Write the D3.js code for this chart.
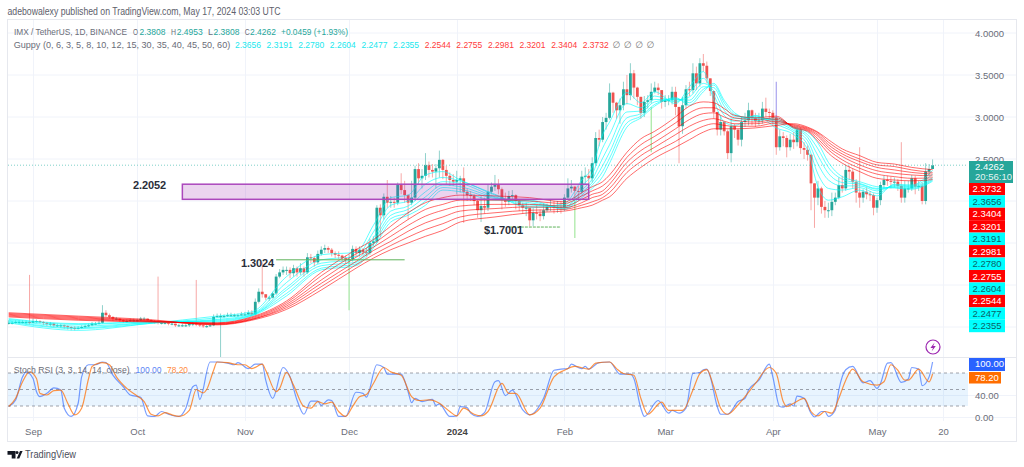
<!DOCTYPE html>
<html><head><meta charset="utf-8">
<script src="https://cdn.jsdelivr.net/npm/d3@7"></script>
<style>html,body{margin:0;padding:0;background:#fff;overflow:hidden}svg{display:block}text{font-family:"Liberation Sans","Noto Sans",sans-serif}</style>
</head><body><svg id="c" width="1024" height="467"></svg>
<script>
// ---- data (day index 0 = 25 Aug 2023, daily candles) ----
const closes=[
.55,.55,.56,.56,.56,.56,.55,.57,.57,.56,
.55,.54,.54,.52,.52,.52,.51,.50,.49,.48,
.49,.50,.51,.52,.54,.54,.55,.67,.64,.62,
.60,.60,.58,.57,.57,.58,.58,.58,.60,.60,
.58,.57,.56,.55,.55,.55,.54,.54,.52,.52,
.52,.52,.54,.54,.53,.52,.51,.51,.52,.62,
.63,.63,.63,.64,.64,.64,.64,.65,.65,.67,
.65,.80,.92,.89,.85,.85,.90,1.10,1.15,1.18,
1.18,1.14,1.20,1.15,1.20,1.15,1.33,1.32,1.27,1.37,
1.42,1.44,1.42,1.38,1.36,1.35,1.32,1.30,1.31,1.43,
1.38,1.42,1.39,1.38,1.50,1.52,1.92,1.83,2.05,1.98,
1.99,1.98,2.19,2.13,2.07,1.98,2.04,2.38,2.27,2.30,
2.43,2.37,2.35,2.39,2.49,2.37,2.30,2.25,2.23,2.25,
2.27,2.11,2.07,2.06,2.00,1.89,1.94,1.92,2.11,2.17,
2.19,2.14,2.01,1.99,2.06,2.07,2.00,1.95,1.92,1.92,
1.77,1.86,1.85,1.82,1.89,1.93,1.94,1.92,1.93,1.92,
2.04,2.15,2.17,2.12,2.11,2.29,2.30,2.27,2.45,2.75,
2.73,2.94,2.99,3.29,3.17,3.08,3.14,3.33,3.26,3.52,
3.35,3.24,3.05,3.18,3.20,3.30,3.35,3.32,3.18,3.20,
3.20,3.30,3.12,2.89,3.14,3.33,3.32,3.52,3.40,3.64,
3.61,3.46,3.31,3.06,2.85,2.94,2.83,2.57,2.89,2.85,
2.73,2.94,2.96,3.08,2.99,2.95,2.96,3.10,3.06,3.05,
2.99,2.64,2.77,2.75,2.64,2.73,2.70,2.85,2.63,2.61,
2.55,2.21,2.04,2.15,1.93,1.89,1.89,1.99,2.04,2.19,
2.15,2.37,2.35,2.23,2.10,2.04,2.11,2.08,2.07,1.92,
2.01,2.19,2.25,2.24,2.23,2.23,2.18,2.04,2.15,2.15,
2.27,2.17,2.18,2.00,2.35,2.3808,2.4262];
const highs=[
.58,.57,.58,.58,.58,.58,1.12,.60,.59,.58,
.57,.56,.56,.55,.54,.54,.53,.52,.51,.51,
.51,.52,.53,.54,.56,.56,.58,.76,.70,.66,
.63,.62,.60,.59,.59,.60,.60,.60,.62,.62,
.60,.59,.58,1.10,.57,.57,.56,.56,.54,.54,
.54,.54,.54,.56,1.06,.54,.53,.53,.54,.65,
.66,.66,.65,.67,.67,.66,.66,.68,.68,.70,
.70,.84,.96,1.27,.88,.87,.92,1.13,1.19,1.22,
1.22,1.21,1.24,1.22,1.26,1.22,1.38,1.37,1.34,1.41,
1.46,1.48,1.46,1.44,1.40,1.40,1.36,1.35,1.36,1.47,
1.46,1.46,1.44,1.44,1.55,1.58,1.95,1.96,2.09,2.25,
2.06,2.04,2.22,2.33,2.24,2.08,2.24,2.42,2.45,2.38,
2.57,2.47,2.44,2.44,2.60,2.50,2.42,2.34,2.32,2.36,
2.30,2.40,2.15,2.12,2.08,2.02,2.06,2.04,2.20,2.22,
2.31,2.26,2.16,2.10,2.12,2.13,2.08,2.02,1.98,1.98,
1.92,1.92,1.95,1.90,1.97,1.97,2.02,2.00,2.00,2.00,
2.08,2.27,2.25,2.18,2.18,2.36,2.40,2.38,2.52,2.82,
2.85,3.00,3.05,3.40,3.30,3.18,3.22,3.42,3.50,3.64,
3.56,3.36,3.22,3.25,3.26,3.40,3.42,3.40,3.28,3.26,
3.26,3.36,3.36,3.05,3.24,3.38,3.42,3.64,3.60,3.70,
3.75,3.66,3.40,3.20,3.00,3.02,2.95,2.85,2.98,2.92,
2.85,3.00,3.05,3.17,3.09,3.05,3.05,3.18,3.23,3.10,
3.08,3.02,2.85,2.82,2.78,2.80,2.82,2.90,2.88,2.70,
2.66,2.56,2.20,2.24,2.17,2.00,1.98,2.10,2.10,2.28,
2.30,2.43,2.42,2.38,2.26,2.64,2.14,2.16,2.12,2.09,
2.04,2.23,2.30,2.30,2.29,2.28,2.26,2.70,2.24,2.24,
2.31,2.30,2.24,2.22,2.45,2.44,2.4953];
const lows=[
.53,.53,.54,.54,.54,.53,.53,.55,.55,.54,
.52,.51,.51,.50,.50,.49,.48,.47,.46,.46,
.47,.48,.49,.50,.51,.52,.53,.54,.62,.60,
.57,.58,.56,.55,.55,.56,.56,.56,.57,.58,
.56,.55,.54,.53,.53,.53,.52,.52,.50,.50,
.50,.50,.50,.51,.51,.50,.49,.49,.50,.51,
.61,.14,.61,.62,.62,.62,.62,.63,.63,.64,
.63,.64,.78,.85,.82,.81,.84,.88,1.08,1.12,
1.12,1.08,1.10,1.10,1.12,1.10,1.13,1.26,1.22,1.25,
1.35,1.38,1.38,1.34,1.32,1.31,1.28,1.26,1.26,1.28,
1.34,1.34,1.35,1.34,1.36,1.46,1.50,1.57,1.78,1.92,
1.92,1.92,1.95,2.08,1.98,1.78,1.95,2.00,2.20,2.15,
2.25,2.28,2.28,2.15,2.28,2.26,2.20,2.18,2.18,2.08,
2.10,1.74,2.00,2.00,1.95,1.80,1.75,1.85,1.88,2.08,
2.12,2.08,1.90,1.93,1.95,1.99,1.90,1.88,1.85,1.82,
1.70,1.70,1.78,1.76,1.78,1.87,1.88,1.85,1.86,1.85,
1.88,2.02,2.10,2.05,2.02,2.08,2.20,2.15,2.22,2.42,
2.65,2.70,2.85,2.97,3.05,2.98,2.92,3.08,3.15,3.20,
3.22,3.14,2.98,3.00,3.10,3.16,3.28,3.26,3.10,3.12,
3.14,3.15,3.02,2.45,2.80,3.10,3.25,3.28,3.32,3.36,
3.54,3.40,3.25,2.98,2.78,2.78,2.78,2.50,2.46,2.75,
2.66,2.65,2.88,2.90,2.90,2.88,2.90,2.92,3.00,2.98,
2.90,2.55,2.60,2.65,2.52,2.60,2.62,2.65,2.56,2.50,
2.48,1.89,1.68,1.95,1.85,1.80,1.80,1.82,1.95,2.02,
2.10,2.12,2.25,2.15,1.98,1.92,1.98,2.02,2.00,1.83,
1.86,1.95,2.15,2.18,2.15,2.16,2.12,1.98,1.98,2.10,
2.12,2.08,2.12,1.96,1.96,2.30,2.3808];
const firstOpen=.55;
// long pale wicks
const spikeDays=[98,163,185,221], spikeTops=[1.30,2.05,3.12,3.42], spikeBottoms=[.70,1.56,2.58,2.88];
const spikeColours=["#a5e8a0","#a5e8a0","#a5e8a0","#a9a4ee"];
// Guppy lines, one row per knot day
const guppyDays=[0,20,40,60,70,80,90,100,105,110,115,120,125,130,140,150,160,165,168,171,173,178,182,186,192,196,200,203,206,209,215,221,226,230,233,236,240,245,250,255,260,266];
const guppyFast=[
[.55,.56,.57,.58,.59,.60],[.46,.48,.49,.51,.53,.54],[.54,.54,.55,.55,.56,.56],[.63,.61,.59,.58,.57,.56],
[.68,.66,.65,.64,.64,.63],[1.10,1.03,.97,.94,.90,.87],[1.36,1.30,1.26,1.23,1.20,1.18],[1.39,1.34,1.30,1.27,1.25,1.23],
[1.71,1.63,1.56,1.52,1.48,1.44],[2.04,1.95,1.88,1.83,1.79,1.75],[2.07,2.00,1.94,1.90,1.86,1.83],[2.31,2.20,2.11,2.05,2.00,1.95],
[2.35,2.28,2.23,2.19,2.16,2.13],[2.25,2.24,2.21,2.17,2.14,2.11],[2.08,2.07,2.05,2.04,2.03,2.01],[1.92,1.94,1.96,1.98,2.00,2.01],
[1.97,1.95,1.93,1.92,1.91,1.90],[2.25,2.18,2.13,2.10,2.07,2.04],[2.40,2.32,2.26,2.22,2.19,2.15],[2.79,2.63,2.51,2.42,2.35,2.29],
[2.94,2.79,2.67,2.58,2.51,2.45],[3.29,3.16,3.06,2.99,2.93,2.88],[3.17,3.11,3.07,3.04,3.01,2.99],[3.30,3.25,3.21,3.18,3.15,3.13],
[3.16,3.18,3.20,3.21,3.22,3.23],[3.36,3.29,3.24,3.20,3.17,3.14],[3.54,3.46,3.40,3.36,3.33,3.30],[3.20,3.26,3.31,3.35,3.38,3.40],
[2.94,3.02,3.08,3.13,3.17,3.20],[2.90,2.95,2.98,3.01,3.03,3.05],[3.02,3.01,3.00,2.99,2.98,2.96],[2.87,2.91,2.94,2.96,2.97,2.99],
[2.79,2.82,2.84,2.86,2.87,2.88],[2.61,2.67,2.72,2.76,2.79,2.82],[2.17,2.32,2.44,2.54,2.62,2.69],[2.01,2.15,2.25,2.33,2.40,2.46],
[2.05,2.13,2.18,2.22,2.26,2.29],[2.13,2.16,2.18,2.20,2.21,2.23],[2.06,2.09,2.12,2.14,2.15,2.17],[2.20,2.19,2.18,2.17,2.16,2.155],
[2.19,2.18,2.17,2.16,2.15,2.14],[2.3656,2.3191,2.2780,2.2604,2.2477,2.2355]];
const guppySlow=[
[.62,.63,.64,.65,.66,.67],[.58,.59,.60,.61,.62,.63],[.56,.565,.57,.575,.58,.59],[.55,.545,.54,.535,.53,.525],
[.62,.61,.60,.59,.59,.58],[.81,.79,.77,.75,.73,.71],[1.15,1.11,1.06,1.02,.98,.94],[1.42,1.37,1.33,1.28,1.24,1.20],
[1.54,1.49,1.45,1.41,1.36,1.32],[1.70,1.64,1.58,1.52,1.47,1.42],[1.86,1.78,1.71,1.64,1.57,1.50],[1.98,1.90,1.82,1.74,1.66,1.58],
[2.04,1.96,1.89,1.81,1.73,1.65],[2.07,2.01,1.94,1.88,1.81,1.75],[2.06,2.01,1.96,1.91,1.86,1.81],[2.04,2.00,1.96,1.93,1.89,1.86],
[1.99,1.97,1.94,1.92,1.90,1.88],[2.10,2.06,2.02,1.98,1.95,1.92],[2.17,2.12,2.08,2.04,1.99,1.95],[2.23,2.18,2.12,2.08,2.04,2.01],
[2.31,2.25,2.20,2.15,2.10,2.05],[2.58,2.52,2.46,2.40,2.34,2.27],[2.74,2.67,2.60,2.54,2.47,2.40],[2.83,2.77,2.70,2.64,2.58,2.51],
[3.00,2.93,2.86,2.79,2.71,2.64],[3.13,3.05,2.97,2.89,2.81,2.73],[3.18,3.11,3.04,2.96,2.89,2.82],[3.17,3.11,3.05,2.98,2.92,2.86],
[3.10,3.05,3.00,2.95,2.90,2.86],[3.02,2.99,2.96,2.92,2.89,2.86],[2.99,2.97,2.94,2.92,2.89,2.87],[3.01,2.99,2.97,2.95,2.93,2.90],
[2.87,2.88,2.89,2.90,2.91,2.92],[2.83,2.84,2.85,2.86,2.87,2.88],[2.71,2.74,2.77,2.79,2.81,2.82],[2.57,2.61,2.64,2.67,2.70,2.73],
[2.45,2.49,2.53,2.56,2.59,2.62],[2.35,2.39,2.43,2.47,2.50,2.54],[2.27,2.32,2.36,2.40,2.43,2.46],[2.25,2.29,2.33,2.37,2.41,2.44],
[2.24,2.27,2.31,2.34,2.37,2.40],[2.2544,2.2755,2.2981,2.3201,2.3404,2.3732]];
// Stochastic RSI
const kDays=[0,2,4,5,7,8,9,11,13,15,16,18,20,21,23,25,27,28,30,33,35,38,40,42,44,46,49,51,53,54,55,58,60,63,65,66,69,71,73,74,76,79,81,83,85,87,89,90,92,93,95,97,100,102,103,106,108,109,113,115,116,117,119,122,123,124,127,129,130,132,133,135,137,140,141,143,145,148,150,154,157,159,161,162,164,165,166,167,170,173,176,179,180,182,183,187,190,191,193,195,197,199,200,201,202,204,205,207,210,212,213,216,219,220,222,223,225,226,227,229,231,232,234,235,236,238,239,241,243,246,248,250,251,253,254,257,259,260,262,263,265,266];
const kVals=[19,31,73,82,70,46,37,43,53,49,16,1,25,73,95,95,100,99,76,55,40,36,2,1,10,5,1,16,55,58,32,100,100,98,95,99,88,96,96,67,34,90,73,31,5,29,29,21,31,30,1,1,45,43,36,95,90,78,78,46,26,34,28,32,21,24,1,2,19,17,7,1,8,64,66,39,49,13,4,34,85,87,88,96,90,88,92,87,99,100,78,78,70,16,1,30,7,12,7,16,79,81,86,87,73,19,5,5,28,34,49,67,96,73,19,18,24,20,38,34,7,0,10,10,1,13,49,86,92,62,66,52,61,98,99,63,69,90,87,57,73,100];
const dDays=[0,2,4,6,8,9,11,13,15,17,19,21,23,24,27,29,31,34,37,39,41,43,45,47,49,52,54,56,57,59,60,63,66,68,70,73,74,77,78,80,82,85,87,89,91,93,95,97,99,101,103,105,108,110,113,116,118,121,124,127,129,131,134,136,138,142,144,146,150,153,157,160,163,167,169,173,175,177,180,182,184,188,190,194,197,199,201,203,205,207,210,212,215,219,221,223,224,226,229,231,233,235,237,239,241,243,246,250,252,254,256,258,259,262,265,266];
const dVals=[19,34,64,82,70,43,40,48,49,25,4,16,70,92,99,95,73,52,38,28,5,2,8,4,1,12,50,44,50,85,100,99,95,95,88,96,85,46,52,81,58,19,16,28,24,27,10,1,19,37,41,61,90,82,76,37,30,31,25,10,2,16,5,2,10,61,43,43,4,16,73,85,92,87,98,100,88,79,76,34,5,27,12,12,49,79,86,55,16,5,22,37,61,90,79,28,19,25,34,10,2,10,7,34,67,87,64,58,64,95,85,67,67,87,64,78.2];
// labels and annotations
const priceTicks=[4,3.5,3,2.5], priceGrid=[.5,1,1.5,2,2.5,3,3.5,4];
const timeTickDays=[7,37,68,98,129,160,189,220,250,269];
const timeTickLabels=["Sep","Oct","Nov","Dec","2024","Feb","Mar","Apr","May","20"];
const stochTicks=[0,40];
const fastValues=["2.3656","2.3191","2.2780","2.2604","2.2477","2.2355"];
const slowValues=["2.2544","2.2755","2.2981","2.3201","2.3404","2.3732"];
const tagValues=["2.3732","2.3656","2.3404","2.3201","2.3191","2.2981","2.2780","2.2755","2.2604","2.2544","2.2477","2.2355"];
const tagKinds=["s","f","s","s","f","s","f","s","f","s","f","f"];
const lastPrice=2.4262, lastCountdown="20:56:10";
const zone={dayA:50,dayB:167,top:2.2,bottom:2.02};
const levelA={dayA:77,dayB:114,price:1.30}, levelB={dayA:144,dayB:159,price:1.69};

// ---- layout ----
const svg=d3.select("#c");
const x=d3.scaleLinear().domain([0,269]).range([8.7,943]);
const y=d3.scaleLinear().domain([0,4]).range([369,33]);
const ys=d3.scaleLinear().domain([0,100]).range([417,362]);
const L=8,R=1016,T=20,PB=357,B=441,AX=968;
const UP="#26a69a",DN="#ef5350";
const GRID="#f0f3fa",TXT="#6a6d78";
const rx=Math.round;

svg.append("defs").append("clipPath").attr("id","pc").append("rect").attr("x",L).attr("y",T).attr("width",AX-L).attr("height",PB-T);
svg.append("defs").append("clipPath").attr("id","sc").append("rect").attr("x",L).attr("y",PB).attr("width",AX-L).attr("height",70);

// grid
const g=svg.append("g");
g.selectAll(".gy").data(priceGrid).join("line").attr("x1",L).attr("x2",R).attr("y1",d=>y(d)+.5|0).attr("y2",d=>y(d)+.5|0).attr("stroke",GRID);
g.selectAll(".gs").data(stochTicks).join("line").attr("x1",L).attr("x2",R).attr("y1",d=>ys(d)+.5).attr("y2",d=>ys(d)+.5).attr("stroke",GRID);
g.selectAll(".gx").data(timeTickDays).join("line").attr("x1",d=>rx(x(d))+.5).attr("x2",d=>rx(x(d))+.5).attr("y1",T).attr("y2",421).attr("stroke",GRID);
// frame and pane separator
svg.append("rect").attr("x",L-.5).attr("y",T-.5).attr("width",R-L+1).attr("height",B-T+1).attr("fill","none").attr("stroke","#e6e8ee");
svg.append("line").attr("x1",L).attr("x2",R).attr("y1",PB+.5).attr("y2",PB+.5).attr("stroke","#e6e8ee");

// candles
const candles=closes.map((c,i)=>({i,o:i?closes[i-1]:firstOpen,c,h:highs[i],l:lows[i]}));
const pg=svg.append("g").attr("clip-path","url(#pc)");
const W=2.8;
pg.selectAll(".w").data(candles).join("line")
  .attr("x1",d=>x(d.i)).attr("x2",d=>x(d.i))
  .attr("y1",d=>y(Math.max(d.h,d.o,d.c))).attr("y2",d=>y(Math.min(d.l,d.o,d.c)))
  .attr("stroke",d=>d.c>=d.o?UP:DN).attr("stroke-opacity",.5).attr("stroke-width",1);
pg.selectAll(".sp").data(spikeDays).join("line")
  .attr("x1",d=>x(d)).attr("x2",d=>x(d))
  .attr("y1",(d,i)=>y(spikeTops[i])).attr("y2",(d,i)=>y(spikeBottoms[i]))
  .attr("stroke",(d,i)=>spikeColours[i]).attr("stroke-width",1.2);
pg.selectAll(".b").data(candles).join("rect")
  .attr("x",d=>x(d.i)-W/2).attr("width",W)
  .attr("y",d=>y(Math.max(d.o,d.c)))
  .attr("height",d=>Math.max(1,Math.abs(y(d.o)-y(d.c))))
  .attr("fill",d=>d.c>=d.o?UP:DN);

// last price dotted line
pg.append("line").attr("x1",L).attr("x2",AX).attr("y1",y(lastPrice)).attr("y2",y(lastPrice))
  .attr("stroke","#7fd0c8").attr("stroke-dasharray","1 2");

// guppy
const gLine=d3.line().x((d,i)=>x(guppyDays[i])).y(d=>y(d)).curve(d3.curveMonotoneX);
d3.range(6).forEach(k=>{
  pg.append("path").attr("d",gLine(guppyFast.map(r=>r[k]))).attr("fill","none").attr("stroke","#00ffff").attr("stroke-opacity",.62).attr("stroke-width",1);
});
d3.range(6).forEach(k=>{
  pg.append("path").attr("d",gLine(guppySlow.map(r=>r[k]))).attr("fill","none").attr("stroke","#ff0000").attr("stroke-opacity",.58).attr("stroke-width",1);
});

// drawings
pg.append("rect").attr("x",x(zone.dayA)).attr("width",x(zone.dayB)-x(zone.dayA))
  .attr("y",y(zone.top)).attr("height",y(zone.bottom)-y(zone.top))
  .attr("fill","#9c27b0").attr("fill-opacity",.2).attr("stroke","#ab47bc").attr("stroke-width",1.5);
[levelA,levelB].forEach((l,i)=>{
  pg.append("line").attr("x1",x(l.dayA)).attr("x2",x(l.dayB)).attr("y1",y(l.price)).attr("y2",y(l.price))
    .attr("stroke","#5fb35a").attr("stroke-width",1).attr("stroke-dasharray",i?"3 1":"none");
});
const ann=[["2.2052",133,189,33],["1.3024",241,267,33],["$1.7001",484,234,39]];
svg.selectAll(".ann").data(ann).join("text").attr("x",d=>d[1]).attr("y",d=>d[2]).text(d=>d[0])
  .attr("font-size",11).attr("font-weight",700).attr("fill","#2a2e39").attr("textLength",d=>d[3]).attr("lengthAdjust","spacing");

// stoch pane
const sg=svg.append("g").attr("clip-path","url(#sc)");
sg.append("rect").attr("x",L).attr("width",AX-L).attr("y",ys(80)).attr("height",ys(20)-ys(80)).attr("fill","#2196f3").attr("fill-opacity",.1);
[80,50,20].forEach(v=>sg.append("line").attr("x1",L).attr("x2",AX).attr("y1",ys(v)).attr("y2",ys(v)).attr("stroke","#787b86").attr("stroke-opacity",.7).attr("stroke-dasharray","3 3"));
const lineOf=days=>d3.line().x((d,i)=>x(days[i])).y(d=>ys(d)).curve(d3.curveMonotoneX);
sg.append("path").attr("d",lineOf(kDays)(kVals)).attr("fill","none").attr("stroke","#2962ff").attr("stroke-opacity",.62).attr("stroke-width",1.2);
sg.append("path").attr("d",lineOf(dDays)(dVals)).attr("fill","none").attr("stroke","#ff6d00").attr("stroke-opacity",.72).attr("stroke-width",1.2);

// axes
const axisStyle=s=>{s.select(".domain").remove();s.selectAll(".tick line").remove();s.selectAll("text").attr("font-size",9.5).attr("fill","#6a6d78");};
svg.append("g").attr("transform","translate(972,0)").call(d3.axisRight(y).tickValues(priceTicks).tickFormat(d3.format(".4f")).tickSize(0).tickPadding(3)).call(axisStyle);
svg.append("g").attr("transform","translate(972,0)").call(d3.axisRight(ys).tickValues(stochTicks).tickFormat(d3.format(".2f")).tickSize(0).tickPadding(3)).call(axisStyle);
svg.append("g").attr("transform","translate(0,426)")
  .call(d3.axisBottom(x).tickValues(timeTickDays).tickFormat((d,i)=>timeTickLabels[i]).tickSize(0).tickPadding(2)).call(axisStyle)
  .selectAll("text").attr("font-weight",(d,i)=>timeTickLabels[i]==="2024"?700:400).attr("fill",(d,i)=>timeTickLabels[i]==="2024"?"#444":"#6a6d78");

// right tags
const tagY=d3.scalePoint().domain(d3.range(tagValues.length)).range([189,326]);
const tg=svg.append("g").selectAll("g").data(tagValues).join("g").attr("transform",(d,i)=>`translate(969,${tagY(i)})`);
tg.append("rect").attr("y",-6.2).attr("width",36).attr("height",12.4).attr("fill",(d,i)=>tagKinds[i]==="s"?"#ff0000":"#00ffff");
tg.append("text").attr("x",18).attr("y",3.4).attr("text-anchor","middle").attr("font-size",9.5).attr("fill",(d,i)=>tagKinds[i]==="s"?"#fff":"#0e5f66").text(d=>d);
svg.append("rect").attr("x",969).attr("y",161).attr("width",44).attr("height",22).attr("fill",UP);
svg.append("text").attr("x",975).attr("y",169.5).attr("font-size",9.5).attr("fill","#fff").text(lastPrice.toFixed(4));
svg.append("text").attr("x",975).attr("y",180.3).attr("font-size",9.5).attr("fill","#e4f4f2").text(lastCountdown);
const stag=[["100.00","#2962ff",358,36],["78.20","#ff6d00",372,32]];
svg.selectAll(".st").data(stag).join("rect").attr("x",969).attr("y",d=>d[2]).attr("width",d=>d[3]).attr("height",d=>d[0]==="100.00"?13:11.5).attr("fill",d=>d[1]);
svg.selectAll(".stt").data(stag).join("text").attr("x",975).attr("y",d=>d[2]+9.3).attr("font-size",9.5).attr("fill","#fff").text(d=>d[0]);

// legends
const t=(s,px,py,col,len,fs)=>{const e=svg.append("text").attr("x",px).attr("y",py).attr("font-size",fs||9).attr("fill",col).text(s);if(len)e.attr("textLength",len).attr("lengthAdjust","spacingAndGlyphs");return e;};
t("adebowalexy published on TradingView.com, May 17, 2024 03:03 UTC",7.5,15,"#5d606b",273,10);
t("IMX / TetherUS, 1D, BINANCE",14,35,TXT,113,8.5);
[["O",133,"2.3808",139.5],["H",171,"2.4953",176.7],["L",208,"2.3808",213.5],["C",244.7,"2.4262",250]].forEach(r=>{
  t(r[0],r[1],35,TXT,5); t(r[2],r[3],35,UP,26);
});
t("+0.0459 (+1.93%)",281,35,UP,67);
t("Guppy (0, 6, 3, 5, 8, 10, 12, 15, 30, 35, 40, 45, 50, 60)",13.7,47.5,TXT,216.5);
const legendX=d3.scaleLinear().domain([0,7]).range([235,456.3]);
fastValues.forEach((v,i)=>t(v,legendX(i),47.5,"#19e8ee",26));
slowValues.forEach((v,i)=>t(v,legendX(i+6),47.5,"#ff3b3b",26));
const noneX=d3.scaleLinear().domain([0,3]).range([616.7,650.7]);
d3.range(4).forEach(i=>svg.append("text").attr("x",noneX(i)).attr("y",47.5).attr("font-size",9).attr("fill","#777").attr("text-anchor","middle").style("font-family","'DejaVu Sans'").text("\u2205"));
t("Stoch RSI (3, 3, 14, 14, close)",13.7,372.5,TXT,116);
t("100.00",135.5,372.5,"#5b86f5",26);
t("78.20",167,372.5,"#ff8a3d",21);

// brand
t("TradingView",25,458,"#4a4e59",51,10.5);
const lg=svg.append("g").attr("fill","#131722");
lg.append("path").attr("d","M7.5 451h8v7.5h-3.8v-3.8H7.5z");
lg.append("circle").attr("cx",17).attr("cy",452.6).attr("r",1.5);
lg.append("path").attr("d","M20 451h2.6l-3.3 7.5h-2.6z");

// alert icon
const ic=svg.append("g");
ic.append("circle").attr("cx",933).attr("cy",347).attr("r",7).attr("fill","#fff").attr("stroke","#9c27b0").attr("stroke-width",1.2);
ic.append("path").attr("d","M934.6 342.6L930.4 348h2.6l-1.4 3.6 4.2-5.5h-2.6z").attr("fill","#9c27b0");
</script></body></html>
